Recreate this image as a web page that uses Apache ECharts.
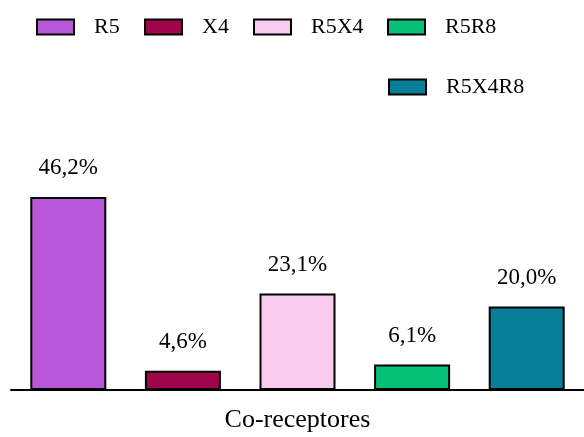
<!DOCTYPE html>
<html>
<head>
<meta charset="utf-8">
<script src="https://cdn.jsdelivr.net/npm/echarts@6/dist/echarts.min.js"></script>
<style>
  html, body { margin: 0; padding: 0; background: #fff; }
  #chart { width: 584px; height: 437px; }
</style>
</head>
<body>
<div id="chart"></div>
<script>
// Co-receptor usage, share of samples (%)
const categories = ['R5', 'X4', 'R5X4', 'R5R8', 'R5X4R8'];
const percentages = [46.2, 4.6, 23.1, 6.1, 20.0];
const colors = ['#b858d8', '#a0044a', '#f9cbee', '#06c078', '#087e99'];
const axisTitle = 'Co-receptores';

const FONT = 'Liberation Serif';

// Legend item placement (one legend per entry so the wrap can be laid out freely)
const legendSpots = [
  { left: 36, top: 16, pad: [6, 0, 0, 15] },
  { left: 144, top: 16, pad: [0, 0, 0, 15] },
  { left: 253, top: 16, pad: [0, 0, 0, 15] },
  { left: 387, top: 16, pad: [0, 0, 0, 15] },
  { left: 388, top: 76, pad: [3, 0, 0, 15] }
];

const fmt = v => v.toFixed(1).replace('.', ',') + '%';

// One series per co-receptor, all overlapping on their own category slot
const series = categories.map((name, i) => ({
  name: name,
  type: 'bar',
  barWidth: 76,
  barGap: '-100%',
  data: categories.map((_, j) => (j === i ? percentages[i] : '-')),
  itemStyle: { color: colors[i], borderColor: '#000', borderWidth: 2 },
  label: {
    show: true,
    position: 'top',
    distance: 17,
    formatter: p => fmt(p.value),
    fontFamily: FONT,
    fontSize: 23,
    color: '#000'
  },
  animation: false
}));

const legends = categories.map((name, i) => ({
  data: [name],
  left: legendSpots[i].left,
  top: legendSpots[i].top,
  padding: 0,
  itemWidth: 37,
  itemHeight: 15,
  icon: 'rect',
  itemStyle: { borderColor: '#000', borderWidth: 2 },
  textStyle: {
    fontFamily: FONT,
    fontSize: 22,
    color: '#000',
    padding: legendSpots[i].pad
  },
  selectedMode: false
}));

const chart = echarts.init(document.getElementById('chart'), null, { renderer: 'canvas' });
chart.setOption({
  backgroundColor: '#fff',
  animation: false,
  legend: legends,
  grid: { left: 11, right: 0, top: 181, bottom: 47, containLabel: false },
  xAxis: {
    type: 'category',
    data: categories,
    boundaryGap: true,
    axisLine: { lineStyle: { color: '#000', width: 2 } },
    axisTick: { show: false },
    axisLabel: { show: false },
    name: axisTitle,
    nameLocation: 'middle',
    nameGap: 17,
    nameTextStyle: { fontFamily: FONT, fontSize: 26, color: '#000' }
  },
  yAxis: {
    type: 'value',
    min: 0,
    max: 50,
    show: false,
    splitLine: { show: false }
  },
  series: series
});
</script>
</body>
</html>
